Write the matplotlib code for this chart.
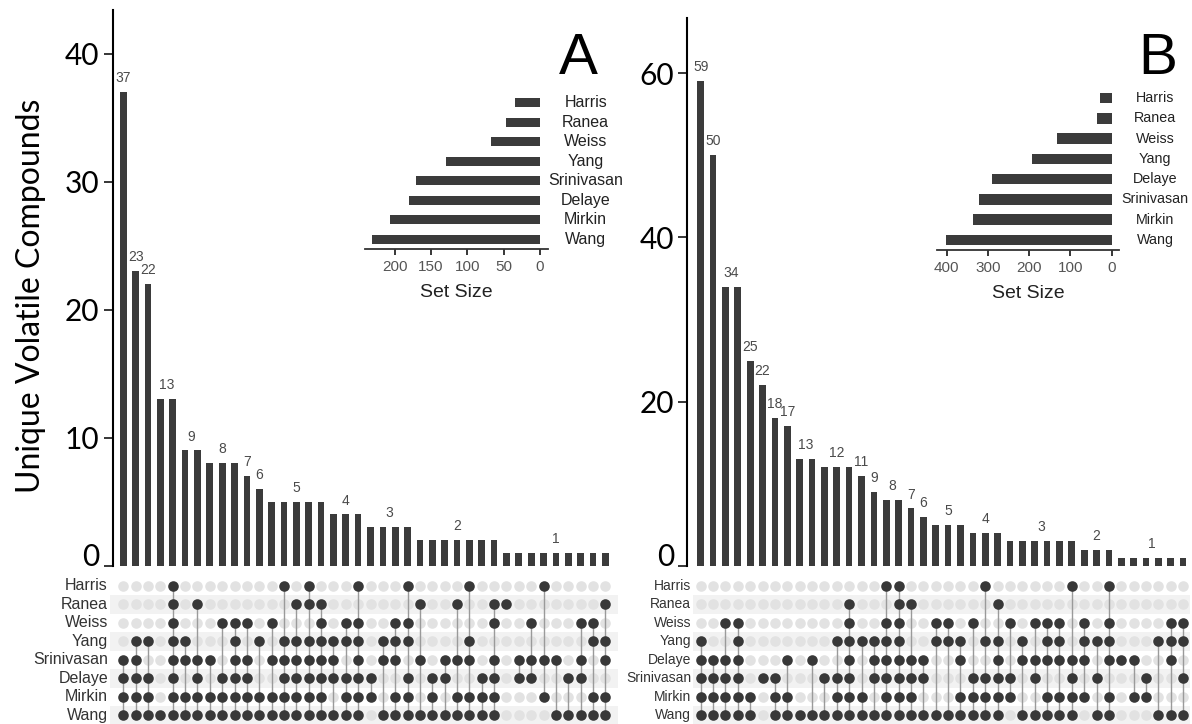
import matplotlib
matplotlib.use("Agg")
import matplotlib.pyplot as plt
import numpy as np
from itertools import groupby

W, H = 1192, 724

# ---- data ----
sets_a = ["Harris", "Ranea", "Weiss", "Yang", "Srinivasan", "Delaye", "Mirkin", "Wang"]
set_size_a = [35, 47, 67, 129, 171, 180, 206, 231]
counts_a = [37, 23, 22, 13, 13, 9, 9, 8, 8, 8, 7, 6, 5, 5, 5, 5, 5, 4, 4, 4,
            3, 3, 3, 3, 2, 2, 2, 2, 2, 2, 2, 1, 1, 1, 1, 1, 1, 1, 1, 1]
# membership per set, one character per intersection column
matrix_a = [
    "0000100000000101000100010000100000100000",  # Harris
    "0000101000000011100000001001001100000001",  # Ranea
    "0000100011101000101100110000001001000110",  # Weiss
    "0110110001010111111101110000100000000011",  # Yang
    "1100111101101111110101101011101011110101",  # Srinivasan
    "1110101011100111111110010110011011001100",  # Delaye
    "1110111111111111101110110101111000100011",  # Mirkin
    "1111111111111111111101111111111000011111",  # Wang
]

sets_b = ["Harris", "Ranea", "Weiss", "Yang", "Delaye", "Srinivasan", "Mirkin", "Wang"]
set_size_b = [28, 36, 133, 192, 290, 321, 335, 402]
counts_b = [59, 50, 34, 34, 25, 22, 18, 17, 13, 13, 12, 12, 12, 11, 9, 8, 8, 7, 6, 5,
            5, 5, 4, 4, 4, 3, 3, 3, 3, 3, 3, 2, 2, 2, 1, 1, 1, 1, 1, 1]
matrix_b = [
    "0000000000000001100000010000001001000000",  # Harris
    "0000000000001000110000001000000000000000",  # Ranea
    "0011000000001001100110100101110101000011",  # Weiss
    "1001000000011111100111011010110111000111",  # Yang
    "1111000101001011111001001011111101110010",  # Delaye
    "1111011000111011111000111101001010001001",  # Srinivasan
    "1111101100011101110001111100111101011000",  # Mirkin
    "1111101111111111111111111011111011000111",  # Wang
]

BAR = "#3b3b3b"
DOT = "#383838"
EMPTY = "#e2e2e2"
STRIPE = "#f2f2f2"
LINE = "#9a9a9a"
SANS = ["Liberation Sans", "DejaVu Sans"]
BIG = ["Lato", "DejaVu Sans"]


def frame(l, t, r, b):
    return [l / W, 1 - b / H, (r - l) / W, (b - t) / H]


def draw_bars(ax, counts, xl, ymax, ticks):
    x = np.arange(len(counts))
    ax.bar(x, counts, width=0.54, color=BAR)
    pos = 0
    for val, grp in groupby(counts):
        n = len(list(grp))
        ax.annotate(str(val), (pos + (n - 1) / 2, val), xytext=(0, 5),
                    textcoords="offset points", ha="center", va="bottom",
                    fontsize=10, color="#4a4a4a", family=SANS)
        pos += n
    ax.set_xlim(xl)
    ax.set_ylim(0, ymax)
    for s in ["top", "right", "bottom"]:
        ax.spines[s].set_visible(False)
    ax.spines["left"].set_linewidth(1.5)
    ax.set_xticks([])
    ax.set_yticks(ticks, [str(t) for t in ticks], fontsize=21.5, family=BIG)
    ax.tick_params(axis="y", length=6.5, width=1.1, pad=3)
    # the zero label sits on top of its tick, as in the original
    ax.get_yticklabels()[0].set_verticalalignment("baseline")


def draw_matrix(ax, sets, rows, xl, name_size):
    grid = np.array([[c == "1" for c in row] for row in rows])
    nr, nc = grid.shape
    for r in range(1, nr, 2):
        ax.axhspan(r - 0.5, r + 0.5, color=STRIPE, lw=0, zorder=0)
    xs, ys = np.meshgrid(np.arange(nc), np.arange(nr))
    ax.scatter(xs[~grid], ys[~grid], s=58, color=EMPTY, lw=0, zorder=1)
    for j in range(nc):
        on = np.where(grid[:, j])[0]
        if len(on) > 1:
            ax.plot([j, j], [on.min(), on.max()], color=LINE, lw=1, zorder=2)
    ax.scatter(xs[grid], ys[grid], s=58, color=DOT, lw=0, zorder=3)
    ax.set_xlim(xl)
    ax.set_ylim(nr - 0.5, -0.5)
    ax.axis("off")
    for r, name in enumerate(sets):
        ax.annotate(name, xy=(0, r), xycoords=("axes fraction", "data"),
                    xytext=(-2, 0), textcoords="offset pixels", ha="right",
                    va="center", fontsize=name_size, color="#333333", family=SANS)


def draw_inset(ax, sets, sizes, xl, ticks, bar_h, name_x, name_size):
    y = np.arange(len(sets))
    ax.barh(y, sizes, height=bar_h, color=BAR)
    ax.set_xlim(xl)
    ax.set_ylim(len(sets) - 0.5, -0.5)
    for s in ["top", "right", "left"]:
        ax.spines[s].set_visible(False)
    ax.spines["bottom"].set_linewidth(1.3)
    ax.spines["bottom"].set_color("#333333")
    ax.set_yticks([])
    ax.set_xticks(ticks, [str(t) for t in ticks], fontsize=11, family=SANS, color="#555555")
    ax.tick_params(axis="x", length=4, width=1.1, pad=4)
    ax.set_xlabel("Set Size", fontsize=14, family=SANS, color="#222222", labelpad=7)
    for r, name in enumerate(sets):
        ax.annotate(name, xy=(name_x, r), xycoords=("figure pixels", "data"),
                    ha="center", va="center", fontsize=name_size, color="#222222",
                    family=SANS)


fig = plt.figure(figsize=(W / 100, H / 100), dpi=100)

# panel A: columns start at x=123.3 px, 12.36 px apart
step_a, x0_a = 12.36, 123.3
ax = fig.add_axes(frame(112.7, 10, 618, 565.7))
draw_bars(ax, counts_a, ((112.7 - x0_a) / step_a, (618 - x0_a) / step_a), 43.4, [0, 10, 20, 30, 40])
ax = fig.add_axes(frame(110, 576.5, 618, 724.5))
draw_matrix(ax, sets_a, matrix_a, ((110 - x0_a) / step_a, (618 - x0_a) / step_a), 11.5)
ax = fig.add_axes(frame(365, 93, 548, 249))
draw_inset(ax, sets_a, set_size_a, (240.7, -11), [200, 150, 100, 50, 0], 0.46, 585.7, 11.5)

# panel B
step_b, x0_b = 12.37, 700.7
ax = fig.add_axes(frame(687.3, 18, 1190, 566))
draw_bars(ax, counts_b, ((687.3 - x0_b) / step_b, (1190 - x0_b) / step_b), 66.7, [0, 20, 40, 60])
ax = fig.add_axes(frame(693, 576.5, 1190, 724.5))
draw_matrix(ax, sets_b, matrix_b, ((693 - x0_b) / step_b, (1190 - x0_b) / step_b), 10)
ax = fig.add_axes(frame(936.7, 88, 1119.3, 250))
draw_inset(ax, sets_b, set_size_b, (424, -18.4), [400, 300, 200, 100, 0], 0.52, 1155, 10.3)

fig.text(31 / W, 1 - 296 / H, "Unique Volatile Compounds", rotation=90, ha="center",
         va="center", fontsize=23, family=BIG)
fig.text(578 / W, 1 - 59 / H, "A", ha="center", va="center", fontsize=42, family=SANS)
fig.text(1157.5 / W, 1 - 58.5 / H, "B", ha="center", va="center", fontsize=42, family=SANS)

fig.savefig("out.png", dpi=100)
